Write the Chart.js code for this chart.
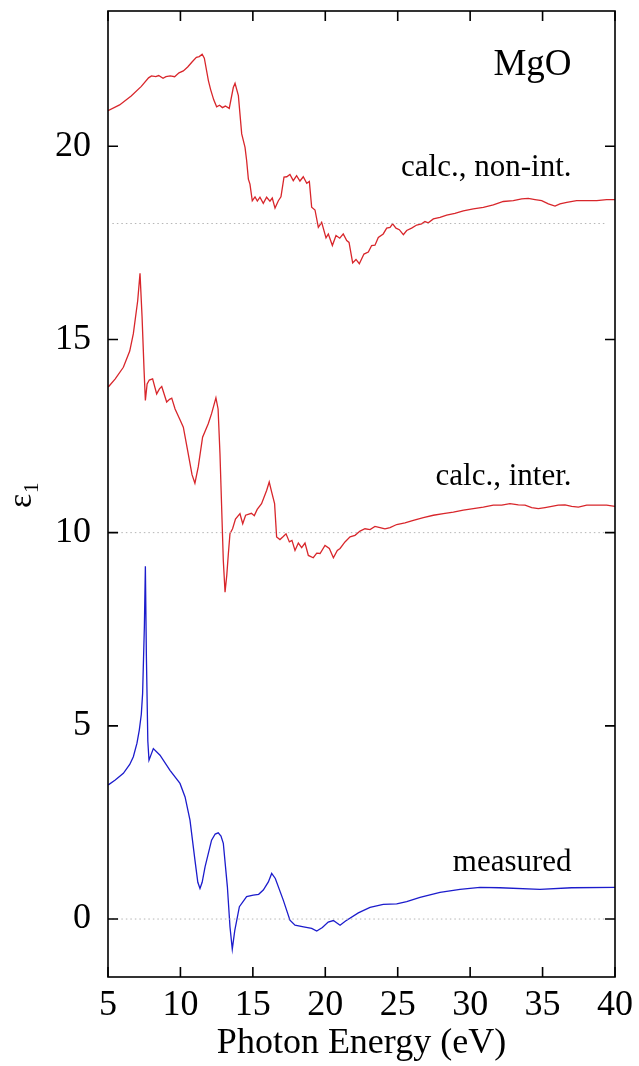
<!DOCTYPE html>
<html>
<head>
<meta charset="utf-8">
<script src="https://cdn.jsdelivr.net/npm/chart.js@4.4.1/dist/chart.umd.min.js"></script>
<style>
  html, body { margin: 0; padding: 0; background: #fff; }
  #wrap { width: 639px; height: 1066px; position: relative; }
</style>
</head>
<body>
<div id="wrap"><canvas id="eps1"></canvas></div>
<script>
  // photon energy (eV) and plotted eps1 values
  const nonIntE = [5.0, 5.8, 6.6, 7.3, 7.8, 8.0, 8.3, 8.5, 8.8, 9.0, 9.3, 9.6, 9.9, 10.2, 10.5, 10.8, 11.1, 11.3, 11.5, 11.65,
    11.93, 12.09, 12.3, 12.5, 12.7, 12.9, 13.1, 13.37, 13.65, 13.77, 14.0, 14.23, 14.46, 14.57, 14.69, 14.8, 14.96, 15.15, 15.31, 15.49,
    15.72, 15.95, 16.18, 16.34, 16.53, 16.76, 16.94, 17.15, 17.34, 17.56, 17.79, 18.02, 18.25, 18.48, 18.72, 18.9, 19.06, 19.29, 19.52, 19.75,
    20.05, 20.21, 20.49, 20.74,
    21.0, 21.24, 21.48, 21.64, 21.89, 22.12, 22.35, 22.67, 22.97, 23.2,
    23.43, 23.66, 24.0, 24.24, 24.47, 24.65, 24.88, 25.11, 25.39, 25.62,
    25.96, 26.31, 26.65, 26.88, 27.11, 27.46, 27.92, 28.38, 28.95, 29.53,
    30.22, 30.91, 31.6, 32.29, 32.98, 33.56, 34.01, 34.48, 34.94, 35.4,
    35.86, 36.2, 36.67, 37.35, 38.05, 38.74, 39.42, 40.0];
  const nonIntEps = [20.92, 21.07, 21.3, 21.55, 21.77, 21.82, 21.8, 21.83, 21.76, 21.8, 21.82, 21.8, 21.9, 21.95, 22.05, 22.18, 22.3, 22.32, 22.38, 22.28,
    21.7, 21.46, 21.2, 21.02, 21.06, 21.0, 21.04, 20.98, 21.52, 21.63, 21.31, 20.32, 19.97, 19.63, 19.15, 19.02, 18.59, 18.69, 18.58, 18.68,
    18.52, 18.68, 18.58, 18.66, 18.4, 18.59, 18.69, 19.2, 19.21, 19.27, 19.11, 19.24, 19.1, 19.21, 19.04, 19.09, 18.42, 18.35, 17.9, 18.03,
    17.63, 17.73, 17.43, 17.69,
    17.62, 17.73, 17.56, 17.51, 16.98, 17.07, 16.96, 17.21, 17.26, 17.43,
    17.44, 17.64, 17.73, 17.88, 17.9, 17.99, 17.88, 17.84, 17.71, 17.82,
    17.88, 17.96, 17.99, 18.05, 18.02, 18.12, 18.16, 18.22, 18.26, 18.33,
    18.38, 18.42, 18.48, 18.57, 18.59, 18.64, 18.65, 18.62, 18.59, 18.51,
    18.45, 18.51, 18.55, 18.59, 18.59, 18.59, 18.62, 18.62];

  const interE = [5.02, 5.5, 6.06, 6.5, 6.75, 7.05, 7.21, 7.35, 7.49, 7.58, 7.7, 7.85, 8.08, 8.36, 8.55, 8.71, 9.05, 9.25, 9.4, 9.63,
    9.97, 10.2, 10.54, 10.8, 11.0, 11.23, 11.53, 11.92, 12.15, 12.45, 12.6, 12.73, 12.96, 13.08, 13.2, 13.31, 13.42, 13.6, 13.8, 14.11,
    14.3, 14.5, 14.9, 15.1, 15.3, 15.6, 15.95, 16.13, 16.3, 16.5, 16.64, 16.87, 17.1, 17.29, 17.52, 17.7, 17.91, 18.14, 18.37, 18.6,
    18.83, 19.17, 19.41, 19.64, 19.98, 20.28, 20.56, 20.83,
    21.02, 21.36, 21.71, 22.05, 22.4, 22.74, 23.09, 23.43, 23.78, 24.12,
    24.47, 24.93, 25.5, 26.08, 26.77, 27.46, 28.15, 28.84, 29.53, 30.22,
    30.91, 31.6, 32.18, 32.75, 33.33, 33.79, 34.25, 34.71, 35.17, 35.63,
    36.08, 36.55, 37.01, 37.47, 38.05, 38.74, 39.42, 40.0];
  const interEps = [13.77, 13.98, 14.28, 14.7, 15.15, 16.0, 16.71, 15.6, 14.2, 13.42, 13.85, 13.95, 13.98, 13.59, 13.72, 13.78, 13.38, 13.45, 13.48, 13.2,
    12.92, 12.73, 12.04, 11.5, 11.28, 11.7, 12.47, 12.82, 13.08, 13.49, 13.2, 12.04, 9.28, 8.46, 8.9, 9.46, 9.97, 10.1, 10.35, 10.49,
    10.23, 10.45, 10.5, 10.44, 10.6, 10.75, 11.09, 11.31, 11.05, 10.75, 9.89, 9.82, 9.9, 9.97, 9.76, 9.8, 9.54, 9.73, 9.61, 9.73,
    9.41, 9.35, 9.47, 9.46, 9.67, 9.59, 9.35, 9.54,
    9.59, 9.76, 9.89, 9.93, 10.04, 10.1, 10.08, 10.16, 10.13, 10.1,
    10.13, 10.21, 10.25, 10.32, 10.39, 10.45, 10.49, 10.53, 10.58, 10.62,
    10.66, 10.71, 10.71, 10.75, 10.72, 10.71, 10.65, 10.62, 10.65, 10.68,
    10.71, 10.72, 10.68, 10.66, 10.71, 10.71, 10.71, 10.68];

  const measE = [5.02, 5.5, 6.06, 6.5, 6.75, 7.0, 7.16, 7.3, 7.39, 7.51, 7.58, 7.65, 7.75, 7.83, 8.13, 8.59, 9.28, 9.97, 10.32, 10.66,
    11.0, 11.2, 11.35, 11.5, 11.7, 12.15, 12.4, 12.61, 12.8, 12.96, 13.24, 13.42, 13.58, 13.75, 14.07, 14.57, 15.03, 15.4, 15.72, 16.07,
    16.3, 16.55, 17.1, 17.56, 17.91, 18.5, 19.06, 19.41, 19.8, 20.2, 20.56, 21.02, 21.4, 22.28, 23.09, 24.0, 24.93, 25.62, 26.54, 27.92,
    29.3, 30.68, 32.06, 34.82, 37.0, 40.0];
  const measEps = [3.47, 3.6, 3.77, 4.0, 4.2, 4.55, 4.89, 5.3, 5.84, 7.56, 9.13, 6.8, 4.6, 4.11, 4.41, 4.24, 3.85, 3.51, 3.16, 2.56,
    1.53, 0.95, 0.79, 0.95, 1.35, 2.04, 2.2, 2.23, 2.15, 1.96, 0.84, -0.2, -0.78, -0.3, 0.32, 0.58, 0.62, 0.64, 0.75, 0.96,
    1.18, 1.05, 0.49, -0.03, -0.16, -0.2, -0.24, -0.31, -0.22, -0.08, -0.04, -0.16, -0.05, 0.16, 0.3, 0.38, 0.39, 0.45, 0.56, 0.69,
    0.77, 0.82, 0.81, 0.77, 0.81, 0.82];

  // zero levels of the shifted curves (dotted)
  const refLevels = [0, 10, 18];
  const refSpan = [5.3, 39.4];

  const xTicks = [5, 10, 15, 20, 25, 30, 35, 40];
  const yTicks = [0, 5, 10, 15, 20];

  // annotation texts placed in data units
  const labels = [
    { text: "MgO", e: 37.0, v: 21.85, size: 37 },
    { text: "calc., non-int.", e: 37.0, v: 19.24, size: 31 },
    { text: "calc., inter.", e: 37.0, v: 11.22, size: 31 },
    { text: "measured", e: 37.0, v: 1.24, size: 31 }
  ];

  const SERIF = '"Liberation Serif", "DejaVu Serif", serif';
  const RED = "#d8262b";
  const BLUE = "#1c1ccc";

  function toPoints(xs, ys) {
    return xs.map(function (x, i) { return { x: x, y: ys[i] }; });
  }

  const datasets = refLevels.map(function (lv) {
    return {
      data: refSpan.map(function (x) { return { x: x, y: lv }; }),
      borderColor: "#b5b5b5", borderWidth: 1, borderDash: [1.5, 3], pointRadius: 0
    };
  });
  datasets.push({ data: toPoints(nonIntE, nonIntEps), borderColor: RED, borderWidth: 1.3, pointRadius: 0, tension: 0 });
  datasets.push({ data: toPoints(interE, interEps), borderColor: RED, borderWidth: 1.3, pointRadius: 0, tension: 0 });
  datasets.push({ data: toPoints(measE, measEps), borderColor: BLUE, borderWidth: 1.3, pointRadius: 0, tension: 0 });

  const framePlugin = {
    id: "frame",
    afterDraw: function (chart) {
      const ctx = chart.ctx;
      const a = chart.chartArea;
      const xs = chart.scales.x;
      const ys = chart.scales.y;
      const len = 10;
      ctx.save();
      ctx.strokeStyle = "#000";
      ctx.lineWidth = 1.6;
      ctx.strokeRect(a.left, a.top, a.right - a.left, a.bottom - a.top);
      ctx.beginPath();
      xTicks.forEach(function (v) {
        const p = xs.getPixelForValue(v);
        ctx.moveTo(p, a.bottom); ctx.lineTo(p, a.bottom - len);
        ctx.moveTo(p, a.top); ctx.lineTo(p, a.top + len);
      });
      yTicks.forEach(function (v) {
        const p = ys.getPixelForValue(v);
        ctx.moveTo(a.left, p); ctx.lineTo(a.left + len, p);
        ctx.moveTo(a.right, p); ctx.lineTo(a.right - len, p);
      });
      ctx.stroke();

      ctx.fillStyle = "#000";
      ctx.textAlign = "right";
      ctx.textBaseline = "alphabetic";
      labels.forEach(function (l) {
        ctx.font = l.size + "px " + SERIF;
        ctx.fillText(l.text, xs.getPixelForValue(l.e), ys.getPixelForValue(l.v));
      });

      // x axis title
      ctx.textAlign = "center";
      ctx.font = "36px " + SERIF;
      ctx.fillText("Photon Energy (eV)", (a.left + a.right) / 2, 1053);

      // y axis title: epsilon with subscript 1, rotated
      ctx.translate(31, 499);
      ctx.rotate(-Math.PI / 2);
      ctx.textAlign = "left";
      ctx.font = "34px " + SERIF;
      ctx.fillText("\u03b5", -9, 0);
      ctx.font = "21px " + SERIF;
      ctx.fillText("1", 6, 7);
      ctx.restore();
    }
  };

  new Chart(document.getElementById("eps1"), {
    type: "line",
    data: { datasets: datasets },
    plugins: [framePlugin],
    options: {
      responsive: true,
      maintainAspectRatio: false,
      animation: false,
      layout: { padding: { left: 0, right: 24, top: 11, bottom: 0 } },
      plugins: { legend: { display: false }, tooltip: { enabled: false } },
      scales: {
        x: {
          type: "linear",
          min: 5, max: 40,
          afterBuildTicks: function (s) { s.ticks = xTicks.map(function (v) { return { value: v }; }); },
          afterFit: function (s) { s.height = 89; s.paddingLeft = 0; s.paddingRight = 0; },
          grid: { display: false, drawTicks: false },
          border: { display: false },
          ticks: { padding: 7, color: "#000", font: { family: SERIF, size: 36 }, maxRotation: 0 }
        },
        y: {
          type: "linear",
          min: -1.5, max: 23.5,
          afterBuildTicks: function (s) { s.ticks = yTicks.map(function (v) { return { value: v }; }); },
          afterFit: function (s) { s.width = 108; s.paddingTop = 0; s.paddingBottom = 0; },
          grid: { display: false, drawTicks: false },
          border: { display: false },
          ticks: { padding: 17, color: "#000", font: { family: SERIF, size: 36 } }
        }
      }
    }
  });
</script>
</body>
</html>
